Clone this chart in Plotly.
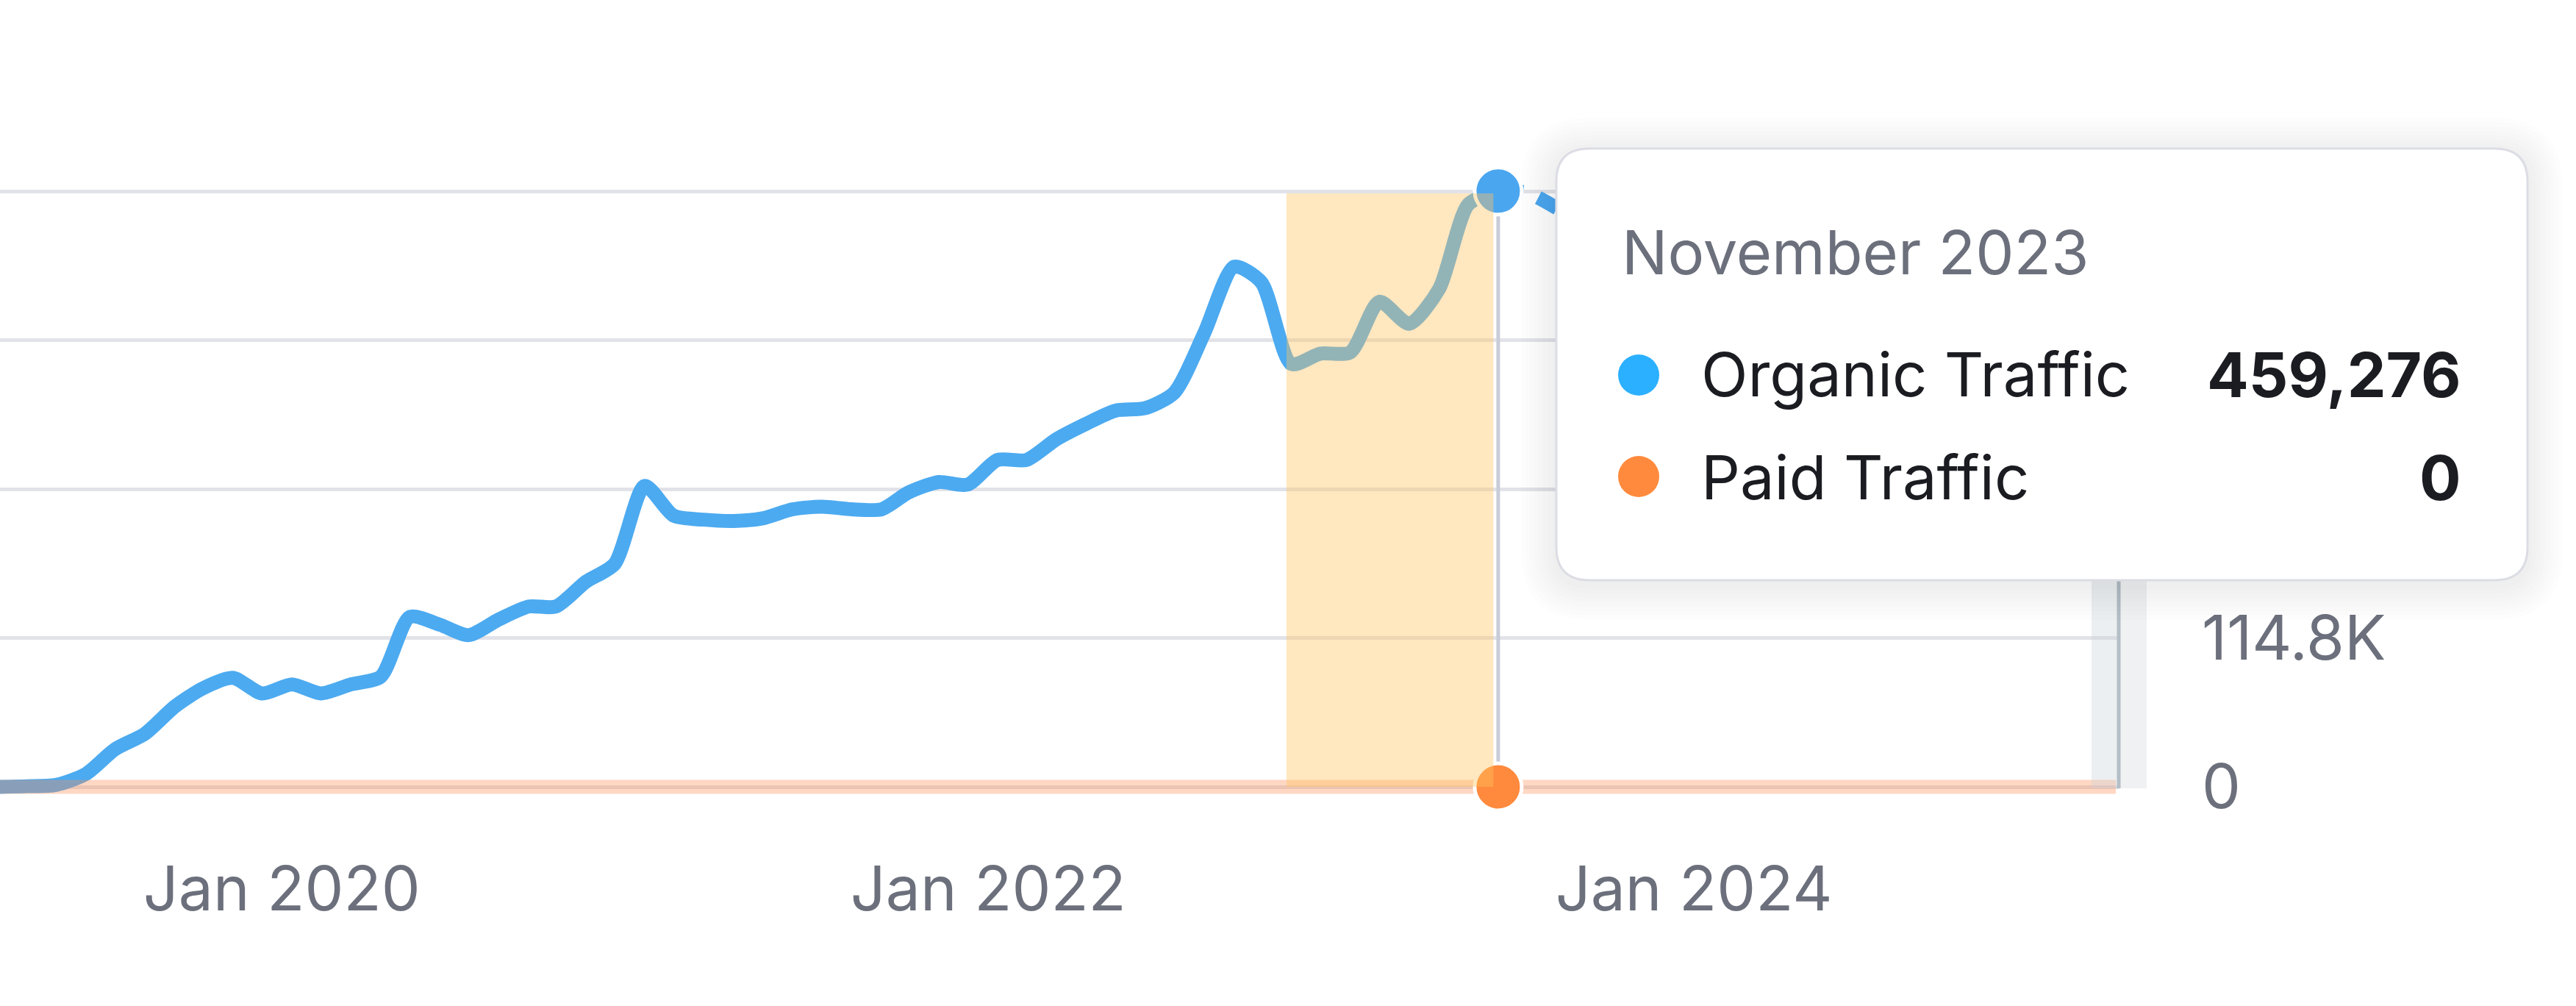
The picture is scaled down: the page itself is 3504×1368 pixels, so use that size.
import pandas as pd
import plotly.graph_objects as go

# --- data (monthly) ---
organic_months = pd.date_range("2019-08-01", "2023-11-01", freq="MS")
organic_traffic = [
    0, 500, 1500, 10000, 29000,
    41000, 62000, 76000, 84000, 72000, 79000, 72000, 79000, 85000, 131000, 125000, 117000,
    129000, 139000, 139000, 158000, 172000, 232000, 209000, 206000, 205000, 207000, 214000, 216000,
    214000, 214000, 227000, 235000, 233000, 252000, 252000, 268000, 280000, 290000, 292000, 304000,
    350000, 401000, 389000, 326000, 334000, 335000, 374000, 357000, 384000, 449000, 459276,
]
# dashed part after the hovered month (runs under the tooltip)
tail_months = ["2023-11-01", "2023-12-01", "2024-01-01"]
tail_traffic = [459276, 458000, 446000]

paid_months = pd.date_range("2019-08-01", "2025-08-01", freq="MS")
paid_traffic = [0] * len(paid_months)

hover_month = "2023-11-01"
hover_title = "November 2023"
hover_organic = 459276
hover_paid = 0

band_start, band_end = "2023-03-27", "2023-10-27"

# upper labels sit behind the tooltip in the original, so they are left blank
y_ticks = [0, 114800, 229600, 344400, 459200]
y_labels = ["0", "114.8K", "", "", ""]
x_ticks = ["2020-01-01", "2022-01-01", "2024-01-01"]
x_labels = ["Jan 2020", "Jan 2022", "Jan 2024"]

# --- page geometry (px) ---
W, H = 3504, 1368
PLOT_R = 2882
PLOT_T, PLOT_B = 200, 1100


def px_x(px):
    return px / PLOT_R


def px_y(py):
    return (PLOT_B - py) / (PLOT_B - PLOT_T)


def round_rect(x0, y0, x1, y1, r):
    pts = [
        ("M", [(x0 + r, y0)]),
        ("L", [(x1 - r, y0)]),
        ("Q", [(x1, y0), (x1, y0 + r)]),
        ("L", [(x1, y1 - r)]),
        ("Q", [(x1, y1), (x1 - r, y1)]),
        ("L", [(x0 + r, y1)]),
        ("Q", [(x0, y1), (x0, y1 - r)]),
        ("L", [(x0, y0 + r)]),
        ("Q", [(x0, y0), (x0 + r, y0)]),
    ]
    out = ""
    for cmd, p in pts:
        out += cmd + " ".join(f"{px_x(a):.5f},{px_y(b):.5f}" for a, b in p)
    return out + "Z"


BLUE = "#4caaf0"
ORANGE = "#ff8a3d"
GREY_TXT = "#6c707c"
FONT = "Inter"

fig = go.Figure()

fig.add_trace(go.Scatter(
    x=organic_months, y=organic_traffic, mode="lines",
    line=dict(color=BLUE, width=19, shape="spline", smoothing=0.7),
    name="Organic Traffic",
))
fig.add_trace(go.Scatter(
    x=tail_months, y=tail_traffic, mode="lines",
    line=dict(color=BLUE, width=19, shape="spline", smoothing=0.7, dash="34px,22px"),
    showlegend=False,
))
fig.add_trace(go.Scatter(
    x=paid_months, y=paid_traffic, mode="lines",
    line=dict(color="rgba(255,138,80,0.34)", width=19),
    name="Paid Traffic",
))
fig.add_trace(go.Scatter(
    x=[hover_month, hover_month], y=[hover_organic, hover_paid], mode="markers",
    marker=dict(size=64, color=["#4ba6f0", ORANGE], line=dict(color="white", width=5)),
    cliponaxis=False, showlegend=False,
))

shapes = [
    # crosshair
    dict(type="line", xref="x", yref="y", x0=hover_month, x1=hover_month,
         y0=0, y1=hover_organic, line=dict(color="#c8ccd8", width=5), layer="between"),
    # highlighted range
    dict(type="rect", xref="x", yref="y", x0=band_start, x1=band_end, y0=0, y1=457500,
         fillcolor="rgba(255,195,95,0.4)", line=dict(width=0), layer="above"),
    # right hand handle
    dict(type="rect", xref="paper", yref="paper", x0=px_x(2845), x1=px_x(2882),
         y0=px_y(1072), y1=px_y(205), fillcolor="rgba(200,208,214,0.35)",
         line=dict(width=0), layer="above"),
    dict(type="rect", xref="paper", yref="paper", x0=px_x(2882), x1=px_x(2920),
         y0=px_y(1072), y1=px_y(205), fillcolor="rgba(214,220,224,0.4)",
         line=dict(width=0), layer="above"),
    dict(type="line", xref="paper", yref="paper", x0=px_x(2882), x1=px_x(2882),
         y0=px_y(1072), y1=px_y(205), line=dict(color="#b4bec6", width=5), layer="above"),
]

# tooltip shadow + box
tx0, ty0, tx1, ty1 = 2117, 202, 3438, 789
for i in range(8, 0, -1):
    g = 6 * i
    shapes.append(dict(type="path", xref="paper", yref="paper",
                       path=round_rect(tx0 - g, ty0 - g + 6, tx1 + g, ty1 + g + 6, 45 + g),
                       fillcolor="rgba(40,40,50,0.007)", line=dict(width=0), layer="above"))
shapes.append(dict(type="path", xref="paper", yref="paper",
                   path=round_rect(tx0, ty0, tx1, ty1, 45),
                   fillcolor="white", line=dict(color="#dcdde4", width=3), layer="above"))
for cy, col in [(510, "#2bb0ff"), (648, ORANGE)]:
    shapes.append(dict(type="circle", xref="paper", yref="paper",
                       x0=px_x(2201), x1=px_x(2257), y0=px_y(cy + 28), y1=px_y(cy - 28),
                       fillcolor=col, line=dict(width=0), layer="above"))

annotations = [
    dict(text=hover_title, x=px_x(2204), y=px_y(343), xanchor="left", yanchor="middle",
         font=dict(family=FONT, size=83, color=GREY_TXT)),
    dict(text="Organic Traffic", x=px_x(2312), y=px_y(509), xanchor="left", yanchor="middle",
         font=dict(family=FONT, size=83, color="#1b1c21")),
    dict(text="Paid Traffic", x=px_x(2312), y=px_y(649), xanchor="left", yanchor="middle",
         font=dict(family=FONT, size=83, color="#1b1c21")),
    dict(text=f"<b>{hover_organic:,}</b>", x=px_x(3350), y=px_y(509), xanchor="right",
         yanchor="middle", font=dict(family=FONT, size=84, color="#1b1c21")),
    dict(text=f"<b>{hover_paid:,}</b>", x=px_x(3350), y=px_y(649), xanchor="right",
         yanchor="middle", font=dict(family=FONT, size=84, color="#1b1c21")),
]
for a in annotations:
    a.update(xref="paper", yref="paper", showarrow=False)

y_span = 459200 / (1070 - 260)
fig.update_layout(
    width=W, height=H,
    margin=dict(l=0, r=W - PLOT_R, t=PLOT_T, b=H - PLOT_B, pad=0),
    paper_bgcolor="white", plot_bgcolor="white",
    showlegend=False, hovermode=False,
    font=dict(family=FONT, size=84, color=GREY_TXT),
    shapes=shapes, annotations=annotations,
    xaxis=dict(
        type="date", range=["2019-08-04", "2025-08-04"],
        tickvals=x_ticks, ticktext=x_labels, ticklabelshift=186,
        ticks="", showgrid=False, zeroline=False, showline=False,
        ticklabelstandoff=53, automargin=False,
        tickfont=dict(family=FONT, size=84, color=GREY_TXT),
    ),
    yaxis=dict(
        side="right", range=[-(PLOT_B - 1070) * y_span, 459200 + (260 - PLOT_T) * y_span],
        tickvals=y_ticks, ticktext=y_labels,
        showgrid=True, gridcolor="#e2e3e9", gridwidth=5,
        zeroline=False, showline=False, ticks="",
        ticklabelstandoff=112, automargin=False,
        tickfont=dict(family=FONT, size=84, color=GREY_TXT),
    ),
)

fig.write_html("out.html", config={"displayModeBar": False},
               post_script="document.body.style.margin='0';document.body.style.overflow='hidden';")
